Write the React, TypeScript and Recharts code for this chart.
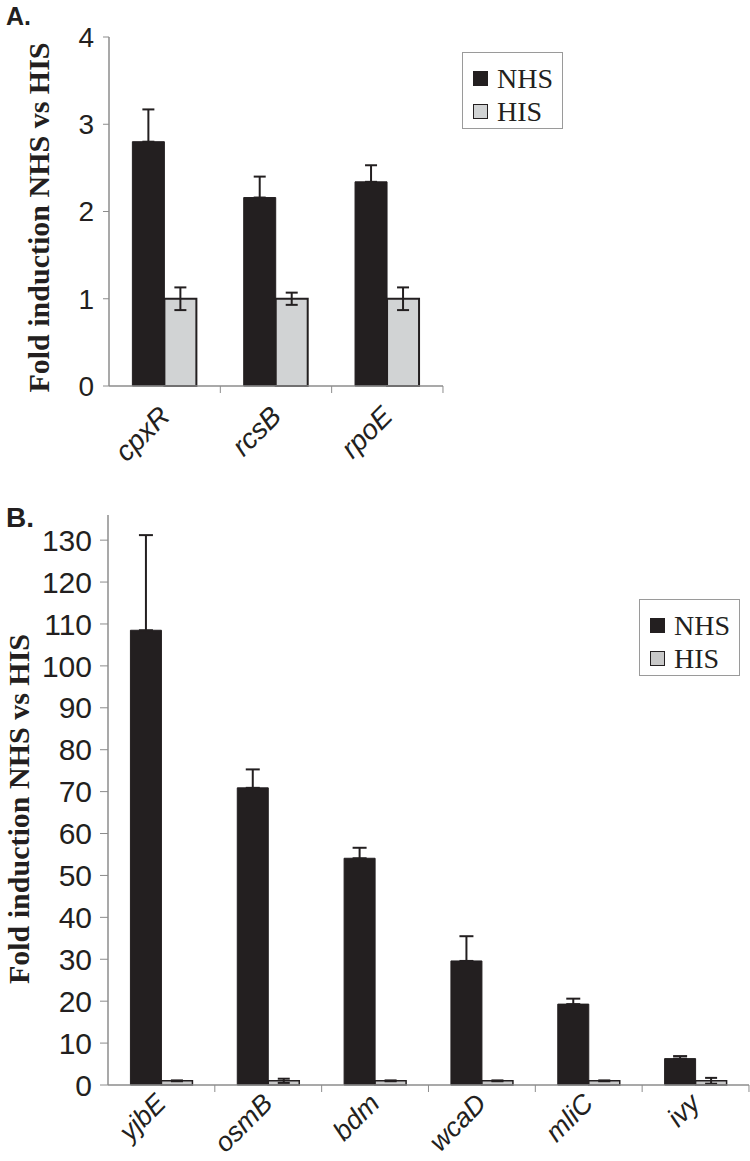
import React from 'react';
import { BarChart, Bar, XAxis, YAxis, ErrorBar, Legend, Label } from 'recharts';

// panel A
const categoriesA = ['cpxR', 'rcsB', 'rpoE'];
const nhsA = [2.8, 2.16, 2.34];
const nhsErrA = [0.37, 0.24, 0.19];
const hisA = [1, 1, 1];
const hisErrA = [0.13, 0.07, 0.13];
const ticksA = [0, 1, 2, 3, 4];

// panel B
const categoriesB = ['yjbE', 'osmB', 'bdm', 'wcaD', 'mliC', 'ivy'];
const nhsB = [108.5, 70.9, 54.1, 29.6, 19.3, 6.3];
const nhsErrB = [22.7, 4.4, 2.5, 5.9, 1.3, 0.6];
const hisB = [1, 1, 1, 1, 1, 1];
const hisErrB = [0.1, 0.5, 0.1, 0.1, 0.1, 0.7];
const ticksB = [0, 10, 20, 30, 40, 50, 60, 70, 80, 90, 100, 110, 120, 130];

const seriesOrder = ['NHS', 'HIS'];

const TITLE = 'Fold induction NHS vs HIS';
const NHS_COLOR = '#231f20';
const AXIS_COLOR = '#8c8c8c';

const buildRows = (cats: string[], nhs: number[], nhsErr: number[], his: number[], hisErr: number[]) =>
  cats.map((name, i) => ({
    name,
    NHS: nhs[i],
    nhsErr: [0, nhsErr[i]],
    HIS: his[i],
    hisErr: [hisErr[i], hisErr[i]],
  }));

const dataA = buildRows(categoriesA, nhsA, nhsErrA, hisA, hisErrA);
const dataB = buildRows(categoriesB, nhsB, nhsErrB, hisB, hisErrB);

const makeXTick = (band: number, fontSize: number, dx: number, dy: number) => (props: any) => {
  const { x, y, payload } = props;
  const edge = x + band / 2;
  const tx = x + dx;
  const ty = y + dy;
  return (
    <g>
      <line x1={edge} x2={edge} y1={y} y2={y + 7} stroke={AXIS_COLOR} strokeWidth={1} />
      <text
        x={tx}
        y={ty}
        textAnchor="end"
        transform={`rotate(-45 ${tx} ${ty})`}
        fontFamily="Liberation Sans, Arial, sans-serif"
        fontStyle="italic"
        fontSize={fontSize}
        fill="#231f20"
      >
        {payload.value}
      </text>
    </g>
  );
};

const makeTitle = (fontSize: number, cx: number, dy: number) => (props: any) => {
  const vb = props.viewBox || {};
  const cy = vb.y + vb.height / 2 + dy;
  return (
    <text
      x={cx}
      y={cy}
      textAnchor="middle"
      dominantBaseline="central"
      transform={`rotate(-90 ${cx} ${cy})`}
      fontFamily="Liberation Serif, Times New Roman, serif"
      fontWeight="bold"
      fontSize={fontSize}
      fill="#231f20"
    >
      {TITLE}
    </text>
  );
};

const renderLegend = (props: any) => {
  const items = [...(props.payload || [])].sort(
    (a: any, b: any) => seriesOrder.indexOf(a.value) - seriesOrder.indexOf(b.value)
  );
  return (
    <div
      style={{
        border: '1px solid #9a9a9a',
        background: '#fff',
        padding: '9px 0 0 10px',
        boxSizing: 'border-box',
        height: '100%',
      }}
    >
      {items.map((it: any) => (
        <div key={it.value} style={{ display: 'flex', alignItems: 'center', height: 33 }}>
          <span
            style={{
              display: 'inline-block',
              width: 13,
              height: 13,
              background: it.color,
              border: '1.5px solid #231f20',
              marginRight: 9,
            }}
          />
          <span style={{ fontFamily: 'Liberation Serif, Times New Roman, serif', fontSize: 28, color: '#231f20' }}>
            {it.value}
          </span>
        </div>
      ))}
    </div>
  );
};

const tickFont = (size: number) => ({ fontFamily: 'Liberation Sans, Arial, sans-serif', fontSize: size, fill: '#231f20' });

const App: React.FC = () => {
  return (
    <div style={{ position: 'absolute', left: 0, top: 0, width: 750, height: 1161, background: '#fff' }}>
      <div style={{ position: 'absolute', left: 6, top: 2, fontFamily: 'Liberation Sans, Arial, sans-serif', fontWeight: 'bold', fontSize: 25, color: '#231f20' }}>
        A.
      </div>
      <div style={{ position: 'absolute', left: 0, top: 0 }}>
        <BarChart
          width={600}
          height={470}
          data={dataA}
          margin={{ top: 37, right: 157, bottom: 0, left: 0 }}
          barCategoryGap="21%"
          barGap={0}
        >
          <XAxis
            dataKey="name"
            height={84}
            interval={0}
            tickSize={0}
            tickMargin={0}
            axisLine={{ stroke: AXIS_COLOR, strokeWidth: 1.5 }}
            tickLine={false}
            tick={makeXTick(111.3, 28, 7, 32)}
          />
          <YAxis
            width={109}
            domain={[0, 4]}
            ticks={ticksA}
            interval={0}
            tickSize={6}
            tickMargin={9}
            axisLine={{ stroke: AXIS_COLOR, strokeWidth: 1.5 }}
            tickLine={{ stroke: AXIS_COLOR }}
            tick={tickFont(28)}
          >
            <Label content={makeTitle(30, 38, 6)} />
          </YAxis>
          <Legend
            layout="horizontal"
            verticalAlign="middle"
            align="center"
            wrapperStyle={{ left: 462, top: 52, width: 101, height: 77 }}
            content={renderLegend}
          />
          <Bar dataKey="NHS" fill={NHS_COLOR} stroke={NHS_COLOR} strokeWidth={1} isAnimationActive={false}>
            <ErrorBar dataKey="nhsErr" width={6} stroke="#231f20" strokeWidth={2} />
          </Bar>
          <Bar dataKey="HIS" fill="#d1d3d4" stroke="#231f20" strokeWidth={2} isAnimationActive={false}>
            <ErrorBar dataKey="hisErr" width={6} stroke="#231f20" strokeWidth={2} />
          </Bar>
        </BarChart>
      </div>

      <div style={{ position: 'absolute', left: 6, top: 502, fontFamily: 'Liberation Sans, Arial, sans-serif', fontWeight: 'bold', fontSize: 28, color: '#231f20' }}>
        B.
      </div>
      <div style={{ position: 'absolute', left: 0, top: 480 }}>
        <BarChart
          width={750}
          height={681}
          data={dataB}
          margin={{ top: 35, right: 1, bottom: 0, left: 0 }}
          barCategoryGap="21%"
          barGap={0}
        >
          <XAxis
            dataKey="name"
            height={76}
            interval={0}
            tickSize={0}
            tickMargin={0}
            axisLine={{ stroke: AXIS_COLOR, strokeWidth: 1.5 }}
            tickLine={false}
            tick={makeXTick(106.8, 27, 6, 20)}
          />
          <YAxis
            width={108}
            domain={[0, 136]}
            ticks={ticksB}
            interval={0}
            tickSize={8}
            tickMargin={8}
            axisLine={{ stroke: AXIS_COLOR, strokeWidth: 1.5 }}
            tickLine={{ stroke: AXIS_COLOR }}
            tick={tickFont(30)}
          >
            <Label content={makeTitle(30, 18, 9)} />
          </YAxis>
          <Legend
            layout="horizontal"
            verticalAlign="middle"
            align="center"
            wrapperStyle={{ left: 639, top: 119, width: 101, height: 77 }}
            content={renderLegend}
          />
          <Bar dataKey="NHS" fill={NHS_COLOR} stroke={NHS_COLOR} strokeWidth={1} isAnimationActive={false}>
            <ErrorBar dataKey="nhsErr" width={7} stroke="#231f20" strokeWidth={2} />
          </Bar>
          <Bar dataKey="HIS" fill="#c8c8c8" stroke="#231f20" strokeWidth={1.5} isAnimationActive={false}>
            <ErrorBar dataKey="hisErr" width={6} stroke="#231f20" strokeWidth={2} />
          </Bar>
        </BarChart>
      </div>
    </div>
  );
};

export default App;
